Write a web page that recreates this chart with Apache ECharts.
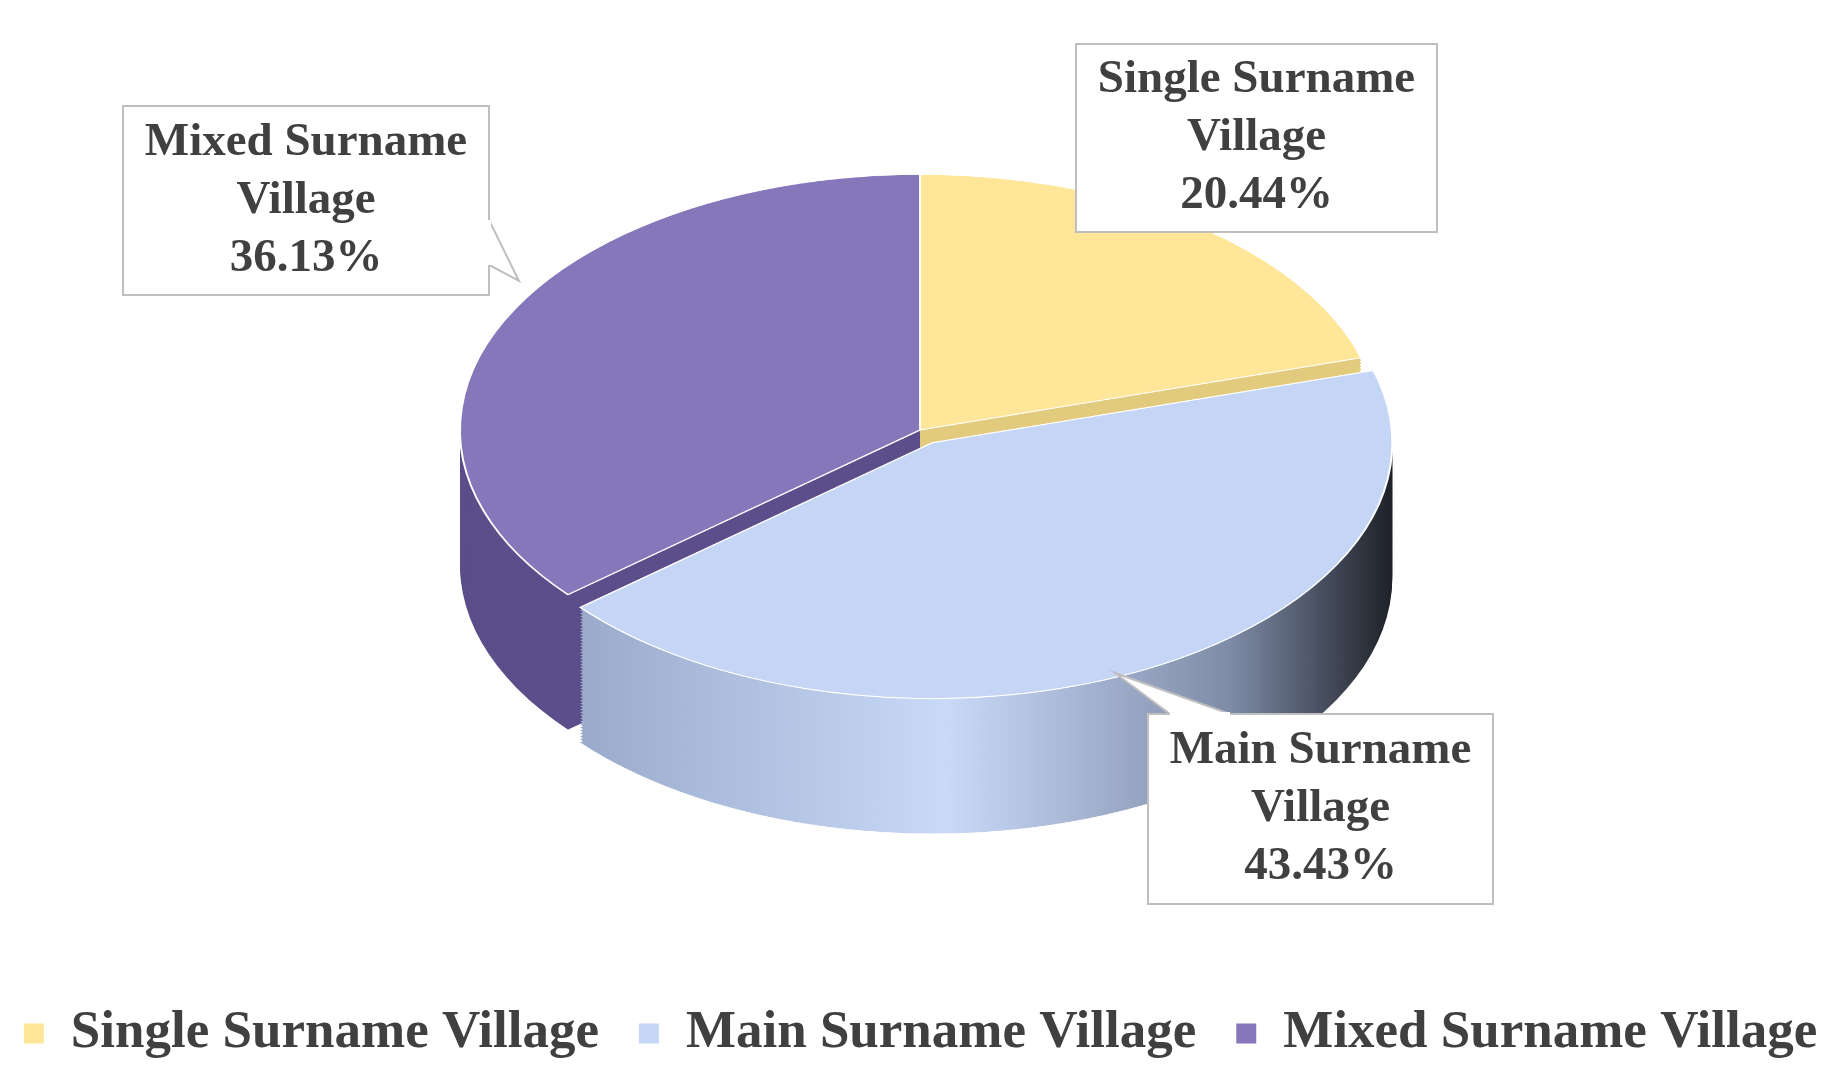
<!DOCTYPE html>
<html><head><meta charset="utf-8">
<script src="https://cdn.jsdelivr.net/npm/echarts@6/dist/echarts.min.js"></script>
<style>
html,body{margin:0;padding:0;background:#fff;overflow:hidden}
#wrap{position:relative;width:1841px;height:1089px}
#pie{position:absolute;left:0;top:0;width:1841px;height:1958px;transform:scaleY(0.556);transform-origin:0 0}
#over{position:absolute;left:0;top:0;width:1841px;height:1089px}
</style></head>
<body><div id="wrap"><div id="pie"></div><div id="over"></div></div>
<script>
// data
const categories = ['Single Surname Village', 'Main Surname Village', 'Mixed Surname Village'];
const values = [20.44, 43.43, 36.13];
const topColors = ['#FFE699', '#C4D5F5', '#8677BB'];
const sideColors = ['#E3CB7E',
  { type: 'linear', x: 0, y: 0, x2: 1, y2: 0,
    colorStops: [{ offset: 0, color: '#9AAACB' }, { offset: 0.45, color: '#C9DAF8' }, { offset: 0.8, color: '#7F8CA8' }, { offset: 1, color: '#1E2128' }] },
  '#5C4E8A'];

const FONT = '"Liberation Serif", "DejaVu Serif", serif';
const S = 0.556;
const CX = 920, CY = 430 / S, R = 460, DEPTH = 135 / S;
const LAYERS = 45;

function pieSeries(offsetY, colors, border) {
  return {
    type: 'pie', radius: [0, R], center: [CX, CY + offsetY],
    startAngle: 90, clockwise: true, animation: false, silent: true,
    selectedMode: 'single', selectedOffset: 26,
    label: { show: false }, labelLine: { show: false },
    emphasis: { disabled: true },
    itemStyle: border ? { borderColor: '#fff', borderWidth: 2 } : { borderWidth: 0 },
    data: categories.map((c, i) => ({ name: c, value: values[i], selected: i === 1,
      itemStyle: { color: colors[i] } })),
  };
}

const series = [];
for (let k = LAYERS; k >= 1; k--) series.push(pieSeries(DEPTH * k / LAYERS, sideColors, false));
series.push(pieSeries(0, topColors, true));

const pie = echarts.init(document.getElementById('pie'), null, { renderer: 'canvas' });
pie.setOption({ backgroundColor: 'transparent', series });

// overlay: label boxes and legend
const boxes = [
  { x: 1076, y: 44, w: 361, h: 188, tip: null },
  { x: 1148, y: 714, w: 345, h: 190, tip: [[1115, 673], [1170, 714], [1230, 714]] },
  { x: 123, y: 106, w: 366, h: 189, tip: [[519, 281], [489, 220], [489, 265]] },
];
const graphic = [];
boxes.forEach((b, i) => {
  graphic.push({ type: 'rect', shape: { x: b.x, y: b.y, width: b.w, height: b.h },
    style: { fill: '#fff', stroke: '#BFBFBF', lineWidth: 2 }, z: 1 });
  if (b.tip) {
    graphic.push({ type: 'polygon', shape: { points: b.tip },
      style: { fill: '#fff', stroke: '#BFBFBF', lineWidth: 2 }, z: 2 });
    graphic.push({ type: 'polyline', shape: { points: [b.tip[1], b.tip[2]] },
      style: { stroke: '#fff', lineWidth: 4 }, z: 3 });
  }
  const words = categories[i].split(' ');
  const txt = words.slice(0, 2).join(' ') + '\n' + words.slice(2).join(' ') + '\n' + values[i].toFixed(2) + '%';
  graphic.push({ type: 'text', x: b.x + b.w / 2, y: b.y + b.h / 2, z: 4,
    style: { text: txt, fill: '#404040', font: 'bold 47px ' + FONT, lineHeight: 58,
      align: 'center', verticalAlign: 'middle' } });
});

const over = echarts.init(document.getElementById('over'), null, { renderer: 'canvas' });
over.setOption({
  backgroundColor: 'transparent',
  legend: { bottom: 24, left: 'center', itemWidth: 20, itemHeight: 20, itemGap: 40,
    icon: 'rect', data: categories, selectedMode: false,
    textStyle: { color: '#404040', fontFamily: FONT, fontWeight: 'bold', fontSize: 53, padding: [0, 0, 0, 22] } },
  series: [{ type: 'pie', radius: [0, 0], center: [-100, -100], silent: true,
    label: { show: false }, labelLine: { show: false },
    data: categories.map((c, i) => ({ name: c, value: values[i], itemStyle: { color: topColors[i] } })) }],
  graphic,
});
</script></body></html>
